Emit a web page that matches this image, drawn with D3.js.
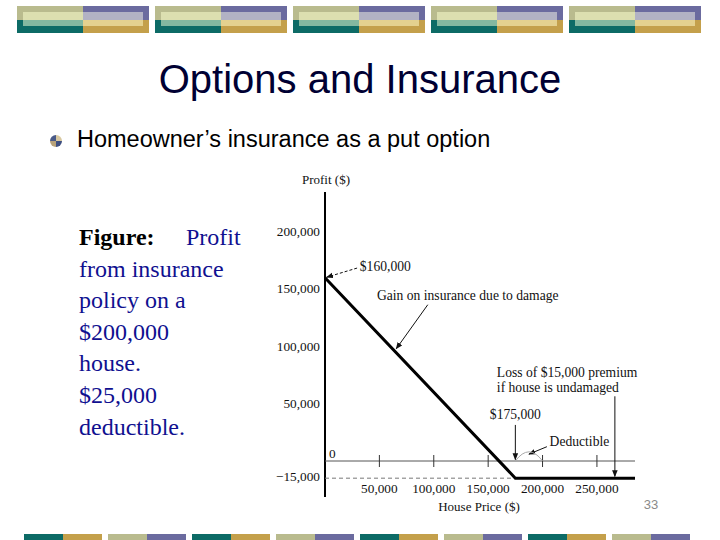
<!DOCTYPE html>
<html><head><meta charset="utf-8">
<script src="https://cdn.jsdelivr.net/npm/d3@7"></script>
<style>html,body{margin:0;padding:0;background:#fff;}svg{display:block;}</style>
</head><body>
<script>
// ---- data ----
const housePrices = [0, 175000, 285000];
const profits = [160000, -15000, -15000];
const xTickValues = [50000, 100000, 150000, 200000, 250000];
const xTickLabels = ["50,000", "100,000", "150,000", "200,000", "250,000"];
const yTickValues = [200000, 150000, 100000, 50000];
const yTickLabels = ["200,000", "150,000", "100,000", "50,000"];
const premiumLoss = -15000;
const deductibleRange = [175000, 200000];
const captionLines = ["from insurance", "policy on a", "$200,000", "house.", "$25,000", "deductible."];

const W = 720, H = 540;
const svg = d3.select("body").append("svg").attr("width", W).attr("height", H);

// defs: arrow marker
const defs = svg.append("defs");
defs.append("marker").attr("id", "arr").attr("viewBox", "0 0 10 10")
  .attr("refX", 9).attr("refY", 5).attr("markerWidth", 7).attr("markerHeight", 7)
  .attr("markerUnits", "userSpaceOnUse").attr("orient", "auto")
  .append("path").attr("d", "M0,1 L10,5 L0,9 Z").attr("fill", "#111");

// ---- banners ----
const cOlive = "#b9bb8e", cPurple = "#6b6b9f", cTeal = "#0d6b66", cGold = "#c4a04b";
const cCream = "#dcdfb0", cLav = "#b2b2c4", cLTeal = "#84b8a0", cLGold = "#e4d18f";
const topG = svg.append("g");
d3.range(5).forEach(i => {
  const x0 = 17 + i * 138;
  const g = topG.append("g").attr("transform", `translate(${x0},0)`);
  g.append("rect").attr("x", 0).attr("y", 6).attr("width", 66).attr("height", 14).attr("fill", cOlive);
  g.append("rect").attr("x", 66).attr("y", 6).attr("width", 66).attr("height", 14).attr("fill", cPurple);
  g.append("rect").attr("x", 0).attr("y", 20).attr("width", 66).attr("height", 13).attr("fill", cTeal);
  g.append("rect").attr("x", 66).attr("y", 20).attr("width", 66).attr("height", 13).attr("fill", cGold);
  g.append("rect").attr("x", 6).attr("y", 12).attr("width", 60).attr("height", 8).attr("fill", cCream);
  g.append("rect").attr("x", 66).attr("y", 12).attr("width", 60).attr("height", 8).attr("fill", cLav);
  g.append("rect").attr("x", 6).attr("y", 20).attr("width", 60).attr("height", 6).attr("fill", cLTeal);
  g.append("rect").attr("x", 66).attr("y", 20).attr("width", 60).attr("height", 6).attr("fill", cLGold);
});
const botG = svg.append("g");
d3.range(8).forEach(i => {
  const x0 = 24 + i * 84;
  const even = i % 2 === 0;
  botG.append("rect").attr("x", x0).attr("y", 534).attr("width", 39).attr("height", 6).attr("fill", even ? cTeal : cOlive);
  botG.append("rect").attr("x", x0 + 39).attr("y", 534).attr("width", 39).attr("height", 6).attr("fill", even ? cGold : cPurple);
});

// ---- title ----
svg.append("text").attr("x", 360).attr("y", 93).attr("text-anchor", "middle")
  .attr("font-family", "Liberation Sans, Arial, sans-serif").attr("font-size", 40)
  .attr("fill", "#000033").text("Options and Insurance");

// bullet
const bc = svg.append("g").attr("transform", "translate(56,141)");
const arc = d3.arc().innerRadius(0).outerRadius(6);
const quad = [["#4a5a88", -Math.PI/2, 0], ["#d8c8a0", 0, Math.PI/2], ["#3e4f80", Math.PI/2, Math.PI], ["#b8a27a", Math.PI, 1.5*Math.PI]];
quad.forEach(q => bc.append("path").attr("d", arc({startAngle: q[1], endAngle: q[2]})).attr("fill", q[0]));
svg.append("text").attr("x", 77).attr("y", 147)
  .attr("font-family", "Liberation Sans, Arial, sans-serif").attr("font-size", 23.5)
  .attr("fill", "#000").text("Homeowner\u2019s insurance as a put option");

// caption
const capFont = "Liberation Serif, Times New Roman, serif";
const cap0 = svg.append("text").attr("x", 79).attr("y", 245).attr("font-family", capFont).attr("font-size", 24);
cap0.append("tspan").attr("font-weight", "bold").attr("fill", "#000").text("Figure:");
cap0.append("tspan").attr("x", 186).attr("fill", "#101090").text("Profit");
captionLines.forEach((t, i) => {
  svg.append("text").attr("x", 79).attr("y", 245 + (i + 1) * 31.6)
    .attr("font-family", capFont).attr("font-size", 24).attr("fill", "#101090").text(t);
});

// page number
svg.append("text").attr("x", 651).attr("y", 509).attr("text-anchor", "middle")
  .attr("font-family", "Liberation Sans, Arial, sans-serif").attr("font-size", 13)
  .attr("fill", "#8a8a8a").text("33");

// ---- chart ----
const x = d3.scaleLinear().domain([0, 285000]).range([325, 635]);
const y = d3.scaleLinear().domain([0, 200000]).range([461, 232]);
const sf = "Liberation Serif, Times New Roman, serif";
const ch = svg.append("g").attr("font-family", sf).attr("fill", "#111");

// y axis line
ch.append("line").attr("x1", x(0)).attr("x2", x(0)).attr("y1", y(235000)).attr("y2", y(-31500))
  .attr("stroke", "#000").attr("stroke-width", 2);
// zero line
ch.append("line").attr("x1", x(0)).attr("x2", x(285000)).attr("y1", y(0)).attr("y2", y(0))
  .attr("stroke", "#555").attr("stroke-width", 1);
// dashed premium line
ch.append("line").attr("x1", x(0)).attr("x2", x(175000)).attr("y1", y(premiumLoss)).attr("y2", y(premiumLoss))
  .attr("stroke", "#777").attr("stroke-width", 1).attr("stroke-dasharray", "4,3");
// x ticks on zero line
ch.selectAll(".xt").data(xTickValues).enter().append("line")
  .attr("x1", d => x(d)).attr("x2", d => x(d)).attr("y1", y(0) - 6).attr("y2", y(0) + 6)
  .attr("stroke", "#333").attr("stroke-width", 1);
ch.selectAll(".xl").data(xTickValues).enter().append("text")
  .attr("x", d => x(d)).attr("y", 493).attr("text-anchor", "middle").attr("font-size", 13.3)
  .text((d, i) => xTickLabels[i]);
ch.selectAll(".yl").data(yTickValues).enter().append("text")
  .attr("x", 320).attr("y", d => y(d) + 4).attr("text-anchor", "end").attr("font-size", 13.3)
  .text((d, i) => yTickLabels[i]);
ch.append("text").attr("x", 320).attr("y", y(premiumLoss) + 3).attr("text-anchor", "end").attr("font-size", 13.3).text("\u221215,000");
ch.append("text").attr("x", 329).attr("y", y(0) - 3).attr("font-size", 13.3).text("0");
ch.append("text").attr("x", 326).attr("y", 184).attr("text-anchor", "middle").attr("font-size", 13).text("Profit ($)");
ch.append("text").attr("x", 479).attr("y", 511).attr("text-anchor", "middle").attr("font-size", 13).text("House Price ($)");

// payoff line
const pts = housePrices.map((h, i) => [h, profits[i]]);
ch.append("path").attr("d", d3.line().x(d => x(d[0])).y(d => y(d[1]))(pts))
  .attr("fill", "none").attr("stroke", "#000").attr("stroke-width", 3).attr("stroke-linejoin", "miter");

// annotations (data coords)
const arrows = [
  {from: [29500, 168500], to: [1500, 160500], dash: "3,2"},
  {from: [94500, 136500], to: [65500, 98000]},
  {from: [266500, 56500], to: [266500, -13500]},
  {from: [175000, 31500], to: [175000, 1200]},
  {from: [204000, 12500], to: [187500, 6000]}
];
arrows.forEach(a => {
  ch.append("line").attr("x1", x(a.from[0])).attr("y1", y(a.from[1])).attr("x2", x(a.to[0])).attr("y2", y(a.to[1]))
    .attr("stroke", "#111").attr("stroke-width", 1).attr("stroke-dasharray", a.dash || null)
    .attr("marker-end", "url(#arr)");
});
// deductible arc
ch.append("path")
  .attr("d", `M${x(deductibleRange[0])},${y(0)} Q${x(187500)},${y(16000)} ${x(deductibleRange[1])},${y(0)}`)
  .attr("fill", "none").attr("stroke", "#aaa").attr("stroke-width", 1);

const labels = [
  {t: "$160,000", at: [32000, 166000], anchor: "start"},
  {t: "Gain on insurance due to damage", at: [47800, 140500], anchor: "start"},
  {t: "Loss of $15,000 premium", at: [158000, 73500], anchor: "start"},
  {t: "if house is undamaged", at: [158000, 60500], anchor: "start"},
  {t: "$175,000", at: [175000, 36800], anchor: "middle"},
  {t: "Deductible", at: [206500, 13200], anchor: "start"}
];
labels.forEach(l => {
  ch.append("text").attr("x", x(l.at[0])).attr("y", y(l.at[1])).attr("text-anchor", l.anchor)
    .attr("font-size", 13.6).text(l.t);
});
</script>
</body></html>
